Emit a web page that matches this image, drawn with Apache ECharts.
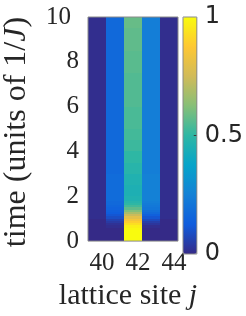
<!DOCTYPE html>
<html>
<head>
<meta charset="utf-8">
<script src="https://cdn.jsdelivr.net/npm/echarts@6/dist/echarts.min.js"></script>
<style>
html,body{margin:0;padding:0;background:#fff;}
#chart{width:246px;height:316px;}
</style>
</head>
<body>
<div id="chart"></div>
<script>
// lattice sites (columns)
const sites = [40, 41, 42, 43, 44];
// time row edges (units of 1/J)
const timeEdges = [0, 0.5, 0.6, 0.7, 0.8, 0.9, 1.0, 1.1, 1.2, 1.3, 1.4, 1.5, 1.6, 1.7, 1.8, 2.0, 2.2, 2.5, 3.0, 3.5, 4.0, 4.5, 5.0, 5.5, 6.0, 6.5, 7.0, 7.5, 8.0, 8.5, 9.0, 9.5, 10];
// occupation per site for each time row (bottom to top)
const site40 = [0.0, 0.0, 0.0, 0.0, 0.0, 0.0, 0.01, 0.01, 0.01, 0.01, 0.01, 0.01, 0.01, 0.01, 0.01, 0.01, 0.01, 0.01, 0.01, 0.01, 0.01, 0.01, 0.01, 0.01, 0.01, 0.01, 0.01, 0.01, 0.01, 0.01, 0.01, 0.01];
const site41 = [0.0, 0.0, 0.01, 0.02, 0.04, 0.06, 0.09, 0.11, 0.13, 0.14, 0.15, 0.16, 0.17, 0.17, 0.18, 0.18, 0.18, 0.18, 0.17, 0.17, 0.17, 0.17, 0.17, 0.17, 0.17, 0.17, 0.17, 0.17, 0.17, 0.17, 0.17, 0.17];
const site42 = [1.0, 0.99, 0.97, 0.93, 0.89, 0.85, 0.80, 0.74, 0.68, 0.62, 0.57, 0.53, 0.50, 0.48, 0.46, 0.45, 0.45, 0.46, 0.48, 0.50, 0.52, 0.53, 0.54, 0.54, 0.55, 0.55, 0.55, 0.56, 0.56, 0.57, 0.57, 0.58];
const site43 = [0.0, 0.0, 0.01, 0.03, 0.05, 0.08, 0.11, 0.14, 0.17, 0.19, 0.21, 0.22, 0.23, 0.24, 0.25, 0.25, 0.25, 0.25, 0.24, 0.24, 0.24, 0.24, 0.24, 0.24, 0.24, 0.24, 0.24, 0.24, 0.24, 0.24, 0.24, 0.24];
const site44 = [0.0, 0.0, 0.0, 0.0, 0.0, 0.0, 0.01, 0.01, 0.01, 0.01, 0.01, 0.01, 0.01, 0.01, 0.01, 0.01, 0.01, 0.01, 0.01, 0.01, 0.01, 0.01, 0.01, 0.01, 0.01, 0.01, 0.01, 0.01, 0.01, 0.01, 0.01, 0.01];
// axis tick labels
const xTicks = [40, 42, 44];
const yMin = 0, yMax = 10, yStep = 2;
const cbMid = 0.5;

const columns = [site40, site41, site42, site43, site44];
const parula = ['#352A87', '#0F5CDD', '#1481D6', '#06A4CA', '#2EB7A4', '#87BF77', '#D1BB59', '#FEC832', '#F9FB0E'];

const cells = [];
sites.forEach((s, ci) => {
  columns[ci].forEach((v, ri) => {
    cells.push([s, timeEdges[ri], timeEdges[ri + 1], v]);
  });
});

const chart = echarts.init(document.getElementById('chart'), null, {renderer: 'canvas'});
const serif = 'Liberation Serif';
const txt = '#262626';
chart.setOption({
  animation: false,
  backgroundColor: '#fff',
  grid: [
    {left: 87, top: 17, width: 91, height: 237, show: true, z: 10, borderColor: '#8a8a8a', borderWidth: 1, backgroundColor: 'transparent'},
    {left: 183, top: 17, width: 14, height: 237, show: true, z: 10, borderColor: '#8a8a8a', borderWidth: 1, backgroundColor: 'transparent'}
  ],
  xAxis: [
    {
      gridIndex: 0, type: 'value', min: 39.5, max: 44.5,
      axisLine: {show: false}, splitLine: {show: false},
      axisTick: {show: false},
      axisLabel: {customValues: xTicks, fontFamily: serif, fontSize: 25, color: txt, margin: 10, padding: [0, 0, 0, 10]},
      name: '{n|lattice site }{i|j}', nameLocation: 'middle', nameGap: 32,
      nameTextStyle: {padding: [0, 10, 0, 0], rich: {n: {fontFamily: serif, fontSize: 30, color: txt}, i: {fontFamily: serif, fontSize: 30, fontStyle: 'italic', color: txt}}}
    },
    {gridIndex: 1, type: 'value', min: 0, max: 1, show: false}
  ],
  yAxis: [
    {
      gridIndex: 0, type: 'value', min: yMin, max: yMax, interval: yStep,
      axisLine: {show: false}, splitLine: {show: false}, axisTick: {show: false},
      axisLabel: {fontFamily: serif, fontSize: 25, color: txt, margin: 9,
        formatter: v => (v === 10 ? '{w|10}' : String(v)),
        rich: {w: {fontFamily: serif, fontSize: 25, color: txt, padding: [0, 8, 0, 0]}}},
      name: '{n|time (units of 1/}{i|J}{n|)}', nameLocation: 'middle', nameGap: 55,
      nameTextStyle: {padding: [0, 6, 0, 0], rich: {n: {fontFamily: serif, fontSize: 32, color: txt}, i: {fontFamily: serif, fontSize: 32, fontStyle: 'italic', color: txt}}}
    },
    {
      gridIndex: 1, type: 'value', position: 'right', min: 0, max: 1, interval: cbMid,
      axisLine: {show: false, onZero: false}, splitLine: {show: false},
      axisTick: {show: false},
      axisLabel: {fontFamily: 'DejaVu Sans', fontSize: 24, color: txt, margin: 8,
        formatter: v => String(v)}
    }
  ],
  visualMap: {
    type: 'continuous', min: 0, max: 1, dimension: 3, seriesIndex: 0, z: 2,
    calculable: false, show: true, left: 183, top: 17, itemWidth: 14, itemHeight: 237,
    padding: 0, text: null, inRange: {color: parula}
  },
  series: [
    {
      type: 'custom', xAxisIndex: 0, yAxisIndex: 0,
      encode: {x: 0, y: [1, 2]},
      data: cells,
      renderItem: function (params, api) {
        const x = api.value(0), t0 = api.value(1), t1 = api.value(2);
        const p0 = api.coord([x - 0.5, t1]);
        const p1 = api.coord([x + 0.5, t0]);
        const x0 = Math.round(p0[0]), y0 = Math.round(p0[1]);
        const x1 = Math.round(p1[0]), y1 = Math.round(p1[1]);
        return {type: 'rect', shape: {x: x0, y: y0, width: x1 - x0, height: y1 - y0},
          style: {fill: api.visual('color'), stroke: null}};
      }
    },
    {
      type: 'line', xAxisIndex: 1, yAxisIndex: 1, data: [], z: 8,
      markLine: {
        silent: true, symbol: 'none', label: {show: false},
        lineStyle: {color: '#3a3a3a', width: 1, type: 'solid'},
        data: [[{coord: [0.78, cbMid]}, {coord: [1, cbMid]}]]
      }
    }
  ]
});
</script>
</body>
</html>
